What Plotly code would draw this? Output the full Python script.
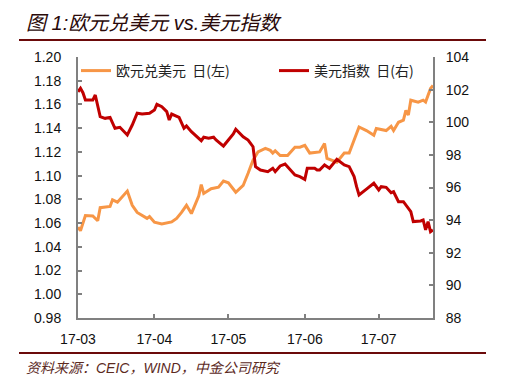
import plotly.graph_objects as go

# ---------------- data ----------------
eur_dates = ["2017-03-01","2017-03-02","2017-03-04","2017-03-07","2017-03-09","2017-03-10","2017-03-14",
             "2017-03-15","2017-03-17","2017-03-21","2017-03-23","2017-03-25","2017-03-29","2017-03-30",
             "2017-04-01","2017-04-04","2017-04-08","2017-04-10","2017-04-12","2017-04-14","2017-04-16",
             "2017-04-19","2017-04-20","2017-04-21","2017-04-24","2017-04-27","2017-04-29",
             "2017-05-01","2017-05-04","2017-05-07","2017-05-09","2017-05-11","2017-05-13","2017-05-16",
             "2017-05-18","2017-05-19","2017-05-20","2017-05-22","2017-05-25","2017-05-28","2017-05-30",
             "2017-06-01","2017-06-03","2017-06-07","2017-06-09","2017-06-10","2017-06-14","2017-06-17",
             "2017-06-19","2017-06-21","2017-06-23","2017-06-26","2017-06-29","2017-06-30",
             "2017-07-04","2017-07-06","2017-07-07","2017-07-09","2017-07-11","2017-07-12","2017-07-13",
             "2017-07-14","2017-07-17","2017-07-19","2017-07-20","2017-07-22","2017-07-23"]
eur_usd = [1.0565,1.0536,1.0663,1.066,1.062,1.073,1.074,1.0796,1.0776,1.087,1.075,1.069,1.064,1.0655,
           1.0607,1.0593,1.061,1.064,1.069,1.075,1.068,1.083,1.0925,1.085,1.089,1.0903,1.0955,
           1.094,1.086,1.0917,1.102,1.113,1.120,1.123,1.1213,1.119,1.121,1.117,1.117,1.124,1.124,
           1.1255,1.119,1.12,1.127,1.1145,1.1114,1.119,1.119,1.13,1.141,1.138,1.134,1.1397,
           1.138,1.1416,1.138,1.145,1.1467,1.155,1.151,1.1636,1.162,1.1636,1.162,1.1735,1.176]

dxy_dates = ["2017-03-01","2017-03-02","2017-03-03","2017-03-04","2017-03-07","2017-03-08","2017-03-10",
             "2017-03-12","2017-03-14","2017-03-16","2017-03-18","2017-03-21","2017-03-23","2017-03-25",
             "2017-03-27","2017-03-30",
             "2017-04-01","2017-04-02","2017-04-04","2017-04-06","2017-04-07","2017-04-08","2017-04-11",
             "2017-04-13","2017-04-14","2017-04-16","2017-04-20","2017-04-21","2017-04-23","2017-04-25",
             "2017-04-26","2017-04-29",
             "2017-05-01","2017-05-03","2017-05-04","2017-05-07","2017-05-09","2017-05-11","2017-05-12",
             "2017-05-14","2017-05-17","2017-05-19","2017-05-20","2017-05-22","2017-05-24","2017-05-26",
             "2017-05-28","2017-05-30",
             "2017-06-01","2017-06-02","2017-06-05","2017-06-06","2017-06-07","2017-06-09","2017-06-11",
             "2017-06-14","2017-06-17","2017-06-19","2017-06-21","2017-06-22","2017-06-23","2017-06-26",
             "2017-06-29",
             "2017-07-01","2017-07-02","2017-07-04","2017-07-06","2017-07-07","2017-07-09","2017-07-11",
             "2017-07-13","2017-07-14","2017-07-15","2017-07-18","2017-07-19","2017-07-20","2017-07-21",
             "2017-07-22","2017-07-23"]
dxy = [101.87,102.08,101.81,101.36,101.36,101.67,100.34,100.24,100.3,99.63,99.69,99.22,99.83,100.55,100.5,100.55,
       100.75,101.1,100.95,100.65,100.14,100.5,100.3,99.63,99.77,99.42,98.87,99.08,99.02,99.08,98.91,98.54,
       98.91,99.28,99.57,99.11,98.91,98.5,97.28,97.07,96.97,97.18,96.97,97.32,97.44,97.07,96.77,96.67,
       96.5,97.18,97.18,97.07,97.07,97.38,97.18,97.73,97.38,97.28,96.67,96.05,95.54,95.9,96.26,
       95.85,96.05,96.01,95.68,95.74,95.13,95.13,94.73,94.52,93.91,93.95,94.01,93.4,93.91,93.29,93.4]

series_names = ["欧元兑美元\u00a0\u00a0日(左)", "美元指数\u00a0\u00a0日(右)"]
title_text = "图 1:欧元兑美元 vs.美元指数"
source_text = "资料来源：CEIC，WIND，中金公司研究"
x_range = ["2017-03-01", "2017-07-23"]
left_range = [0.98, 1.20]
right_range = [88, 104]

# ---------------- layout geometry ----------------
W, H = 512, 391
L, R, T, B = 78, 433, 57, 318

def px2x(px):
    return (px - L) / (R - L)

def px2y(py):
    return (B - py) / (B - T)

ORANGE = "#F79646"
RED = "#C00000"
AXIS = "#808080"
TICKFONT = dict(family="Arial, Liberation Sans, sans-serif", size=14, color="#111111")
LEGFONT = dict(family="Noto Sans CJK SC", size=14, color="#222222")

fig = go.Figure()
fig.add_trace(go.Scatter(x=eur_dates, y=eur_usd, name=series_names[0], mode="lines",
                         line=dict(color=ORANGE, width=3), yaxis="y", legend="legend"))
fig.add_trace(go.Scatter(x=dxy_dates, y=dxy, name=series_names[1], mode="lines",
                         line=dict(color=RED, width=3), yaxis="y2", legend="legend2"))

fig.update_layout(
    width=W, height=H,
    margin=dict(l=L, r=W - R, t=T, b=H - B),
    paper_bgcolor="white", plot_bgcolor="white",
    showlegend=True,
    legend=dict(orientation="h", x=px2x(76), xanchor="left", y=px2y(55), yanchor="top",
                bgcolor="rgba(0,0,0,0)", font=LEGFONT, itemwidth=30),
    legend2=dict(orientation="h", x=px2x(274), xanchor="left", y=px2y(55), yanchor="top",
                 bgcolor="rgba(0,0,0,0)", font=LEGFONT, itemwidth=30),
    xaxis=dict(type="date", range=x_range, showgrid=False, zeroline=False,
               showline=True, linecolor=AXIS, linewidth=2,
               ticks="inside", ticklen=4, tickwidth=2, tickcolor=AXIS,
               tick0="2017-03-01", dtick="M1", tickformat="%y-%m",
               tickfont=TICKFONT, ticklabelstandoff=7),
    yaxis=dict(range=left_range, dtick=0.02, tickformat=".2f", showgrid=False, zeroline=False,
               showline=True, linecolor=AXIS, linewidth=2,
               ticks="inside", ticklen=4, tickwidth=2, tickcolor=AXIS,
               tickfont=TICKFONT, ticklabelstandoff=12),
    yaxis2=dict(range=right_range, dtick=2, overlaying="y", side="right", showgrid=False, zeroline=False,
                showline=True, linecolor=AXIS, linewidth=2,
                ticks="inside", ticklen=4, tickwidth=2, tickcolor=AXIS,
                tickfont=TICKFONT, ticklabelstandoff=8),
    shapes=[
        dict(type="line", xref="paper", yref="paper", x0=px2x(19), x1=px2x(486), y0=px2y(40), y1=px2y(40),
             line=dict(color="#6B0A0A", width=2)),
        dict(type="line", xref="paper", yref="paper", x0=px2x(19), x1=px2x(486), y0=px2y(353), y1=px2y(353),
             line=dict(color="#6B0A0A", width=2)),
    ],
    annotations=[
        dict(text=title_text, xref="paper", yref="paper", x=px2x(24), y=px2y(23),
             xanchor="left", yanchor="middle", showarrow=False,
             font=dict(family="Liberation Sans, Noto Sans CJK SC", size=20, color="#2A0A0A", style="italic")),
        dict(text=source_text, xref="paper", yref="paper", x=px2x(24), y=px2y(368),
             xanchor="left", yanchor="middle", showarrow=False,
             font=dict(family="Liberation Sans, Noto Sans CJK SC", size=14, color="#5C2A1E", style="italic")),
    ],
)

fig.write_html("out.html", config={"displayModeBar": False},
               post_script="document.body.style.margin='0';")
